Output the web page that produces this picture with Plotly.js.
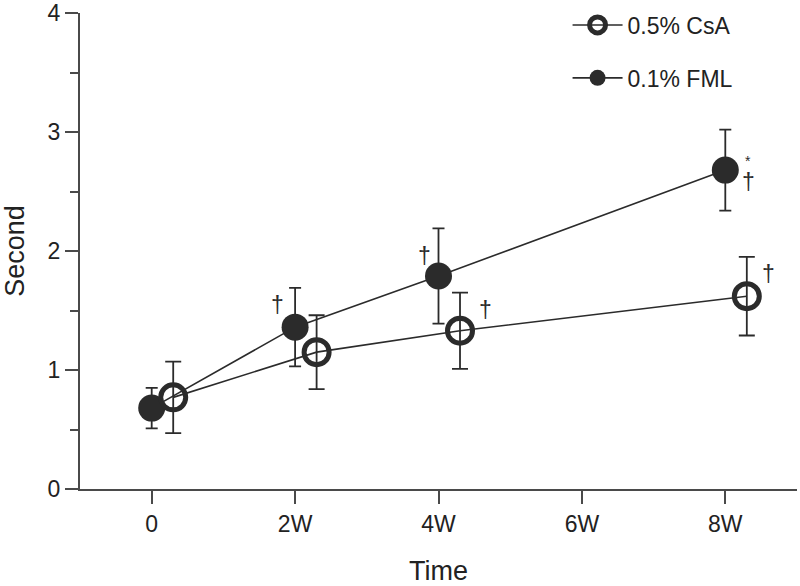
<!DOCTYPE html>
<html>
<head>
<meta charset="utf-8">
<script src="https://cdn.plot.ly/plotly-3.0.1.min.js"></script>
<style>html,body{margin:0;padding:0;background:#fff}#chart{width:800px;height:586px}</style>
</head>
<body>
<div id="chart"></div>
<script>
// Data
const weeks = [0, 2, 4, 8];
const tickVals = [0, 2, 4, 6, 8];
const tickLabels = ['0', '2W', '4W', '6W', '8W'];
const fmlMean = [0.68, 1.36, 1.79, 2.68];
const fmlErr = [0.17, 0.33, 0.40, 0.34];
const csaMean = [0.77, 1.15, 1.33, 1.62];
const csaErr = [0.30, 0.31, 0.32, 0.33];
const seriesNames = ['0.5% CsA', '0.1% FML'];

const csaOffset = 0.3;
const ink = '#2b2b2b';
const axisInk = '#4a4a4a';
const fontFam = 'Liberation Sans, Arial, sans-serif';
const csaX = weeks.map(w => w + csaOffset);

const fml = {
  x: weeks, y: fmlMean, name: seriesNames[1], type: 'scatter', mode: 'lines+markers',
  legendgroup: 'b', legendrank: 2,
  line: {color: ink, width: 1.6},
  marker: {symbol: 'circle', size: 27, color: ink, line: {width: 0}},
  error_y: {type: 'data', array: fmlErr, visible: true, color: ink, thickness: 1.8, width: 6}
};
const csa = {
  x: csaX, y: csaMean, name: seriesNames[0], type: 'scatter', mode: 'lines+markers',
  legendgroup: 'a', legendrank: 1,
  line: {color: ink, width: 1.6},
  marker: {symbol: 'circle-open', size: 25, color: ink, line: {width: 5, color: ink}},
  error_y: {type: 'data', array: csaErr, visible: true, color: ink, thickness: 1.8, width: 8}
};

function mark(x, y, text, xs, ys, size) {
  return {x: x, y: y, xref: 'x', yref: 'y', text: text, showarrow: false,
    xshift: xs, yshift: ys, font: {family: fontFam, size: size || 23, color: ink}};
}
const annotations = [
  mark(weeks[1], fmlMean[1], '†', -18, 22),
  mark(weeks[2], fmlMean[2], '†', -14, 20),
  mark(csaX[2], csaMean[2], '†', 25, 21),
  mark(csaX[3], csaMean[3], '†', 22, 22),
  mark(weeks[3], fmlMean[3], '†', 23, -12),
  mark(weeks[3], fmlMean[3], '*', 23, 9, 14)
];

const layout = {
  width: 800, height: 586,
  margin: {l: 80, r: 3, t: 13, b: 97},
  paper_bgcolor: '#fff', plot_bgcolor: '#fff',
  font: {family: fontFam, size: 23, color: '#222'},
  showlegend: true,
  legend: {x: 0.68, y: 1.02, xanchor: 'left', yanchor: 'top', traceorder: 'grouped',
    tracegroupgap: 20, itemwidth: 50, font: {size: 23}, bgcolor: 'rgba(0,0,0,0)'},
  xaxis: {
    range: [-1, 9], tickmode: 'array', tickvals: tickVals, ticktext: tickLabels,
    showgrid: false, zeroline: false, showline: true, linecolor: axisInk, linewidth: 2,
    ticks: 'outside', ticklen: 13, tickwidth: 2, tickcolor: axisInk,
    tickfont: {size: 23}, title: {text: 'Time', font: {size: 27}, standoff: 30}
  },
  yaxis: {
    range: [0, 4], tickmode: 'linear', tick0: 0, dtick: 1,
    showgrid: false, zeroline: false, showline: true, linecolor: axisInk, linewidth: 2,
    ticks: 'outside', ticklen: 13, tickwidth: 2, tickcolor: axisInk,
    minor: {dtick: 0.5, ticks: 'outside', ticklen: 8, tickwidth: 2, tickcolor: axisInk, showgrid: false},
    tickfont: {size: 23}, title: {text: 'Second', font: {size: 27}, standoff: 18}
  },
  annotations: annotations
};

Plotly.newPlot('chart', [fml, csa], layout, {displayModeBar: false, staticPlot: true});
</script>
</body>
</html>
